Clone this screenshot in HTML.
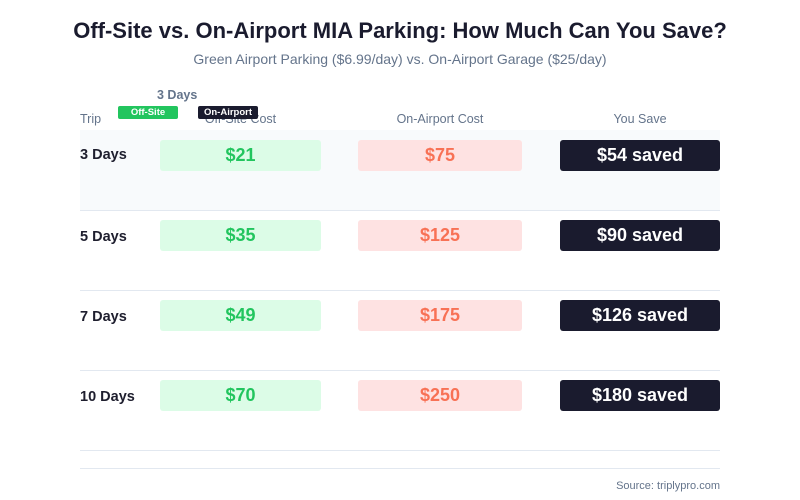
<!DOCTYPE html>
<html><head><meta charset="utf-8"><style>
body{margin:0;width:800px;height:500px;background:#fff;font-family:"Liberation Sans",sans-serif;position:relative;overflow:hidden}
div{position:absolute}
.t{left:0;width:800px;text-align:center}
.hd{top:112px;font-size:12.5px;color:#64748b}
.line{left:80px;width:640px;height:1px;background:#e2e8f0}
.lab{left:80px;font-size:14.5px;font-weight:bold;color:#1e1e2e}
.b{height:31px;border-radius:3px;text-align:center;line-height:31px;font-size:18px;font-weight:bold}
.g{left:160px;width:161px;background:#dcfce7;color:#22c55e}
.r{left:358px;width:164px;background:#fee2e2;color:#f87155}
.s{left:560px;width:160px;background:#1a1b2e;color:#fff}
</style></head><body>
<div class="t" style="top:18px;font-size:22px;font-weight:bold;color:#1a1b2e">Off-Site vs. On-Airport MIA Parking: How Much Can You Save?</div>
<div class="t" style="top:51px;font-size:14px;color:#64748b">Green Airport Parking ($6.99/day) vs. On-Airport Garage ($25/day)</div>
<div style="left:80px;top:130px;width:640px;height:80px;background:#f8fafc"></div>
<div class="hd" style="left:80px">Trip</div>
<div class="hd" style="left:160px;width:161px;text-align:center">Off-Site Cost</div>
<div class="hd" style="left:358px;width:164px;text-align:center">On-Airport Cost</div>
<div class="hd" style="left:560px;width:160px;text-align:center">You Save</div>
<div style="left:157px;top:88px;font-size:12.5px;font-weight:bold;color:#64748b">3 Days</div>
<div style="left:118px;top:106px;width:60px;height:13px;background:#22c55e;border-radius:2px;color:#fff;font-size:9.5px;font-weight:bold;text-align:center;line-height:13px">Off-Site</div>
<div style="left:198px;top:106px;width:60px;height:13px;background:#1a1b2e;border-radius:2px;color:#fff;font-size:9.5px;font-weight:bold;text-align:center;line-height:13px">On-Airport</div>

<div class="lab" style="top:147px">3 Days</div>
<div class="b g" style="top:140px">$21</div><div class="b r" style="top:140px">$75</div><div class="b s" style="top:140px">$54 saved</div>
<div class="line" style="top:210px"></div>
<div class="lab" style="top:229px">5 Days</div>
<div class="b g" style="top:220px">$35</div><div class="b r" style="top:220px">$125</div><div class="b s" style="top:220px">$90 saved</div>
<div class="line" style="top:290px"></div>
<div class="lab" style="top:309px">7 Days</div>
<div class="b g" style="top:300px">$49</div><div class="b r" style="top:300px">$175</div><div class="b s" style="top:300px">$126 saved</div>
<div class="line" style="top:370px"></div>
<div class="lab" style="top:389px">10 Days</div>
<div class="b g" style="top:380px">$70</div><div class="b r" style="top:380px">$250</div><div class="b s" style="top:380px">$180 saved</div>
<div class="line" style="top:450px"></div>
<div class="line" style="top:468px"></div>
<div style="left:560px;width:160px;text-align:right;top:480px;font-size:11px;color:#64748b">Source: triplypro.com</div>
</body></html>
